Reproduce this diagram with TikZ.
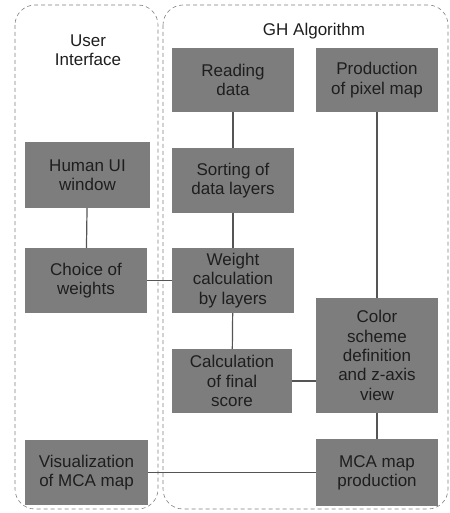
\documentclass[tikz,border=0pt]{standalone}
\usepackage{fontspec}
\setmainfont{Liberation Sans}
\usepackage{xcolor}
\usepackage{tikz}
\usetikzlibrary{positioning}
\definecolor{boxgray}{HTML}{7D7D7D}
\definecolor{linegray}{HTML}{555555}
\definecolor{framegray}{HTML}{808080}
\definecolor{txtgray}{HTML}{1E1E1E}
\tikzset{
	blk/.style={fill=boxgray,text=txtgray,align=center,inner sep=0pt,minimum width=122pt,minimum height=65pt,font=\fontsize{17}{19.3}\selectfont},
	lane/.style={draw=framegray,dashed,dash pattern=on 4pt off 3pt,rounded corners=20pt,line width=0.6pt},
	link/.style={draw=linegray,line width=1.2pt}
}
\begin{document}
\begin{tikzpicture}[x=1pt,y=-1pt]
		\useasboundingbox (0,0) rectangle (449,513);
		\draw[lane] (15,5) rectangle (158,509);
		\draw[lane] (163,5) rectangle (448,509);
		\node[text=txtgray,align=center,font=\fontsize{17}{19.3}\selectfont] (ui) at (88,50) {User\\Interface};
		\node[text=txtgray,font=\fontsize{17}{19.3}\selectfont] (gh) at (314,31) {GH Algorithm};
		\node[blk,minimum width=125pt,minimum height=66pt] (human) at (87.5,175) {Human UI\\window};
		\node[blk] (choice) at (86,280.5) {Choice of\\weights};
		\node[blk,minimum width=123pt] (visual) at (86.5,472.5) {Visualization\\of MCA map};
		\node[blk,minimum height=64pt] (reading) at (233,80) {Reading\\data};
		\node[blk] (sorting) at (233,180.5) {Sorting of\\data layers};
		\node[blk] (weight) at (233,280.5) {Weight\\calculation\\by layers};
		\node[blk,minimum width=120pt,minimum height=64pt] (final) at (232,381) {Calculation\\of final\\score};
		\node[blk,minimum height=64pt] (pixel) at (377,80) {Production\\of pixel map};
		\node[blk,minimum height=115pt] (color) at (377,355.5) {Color\\scheme\\definition\\and z-axis\\view};
		\node[blk,minimum height=67pt] (mca) at (377,472.5) {MCA map\\production};
		\draw[link] (human) -- (choice);
		\draw[link] (choice) -- (weight);
		\draw[link] (reading) -- (sorting);
		\draw[link] (sorting) -- (weight);
		\draw[link] (weight) -- (final);
		\draw[link] (pixel) -- (color);
		\draw[link] (final) -- (final -| color.west);
		\draw[link] (color) -- (mca);
		\draw[link] (visual) -- (mca);
	\end{tikzpicture}
\end{document}
